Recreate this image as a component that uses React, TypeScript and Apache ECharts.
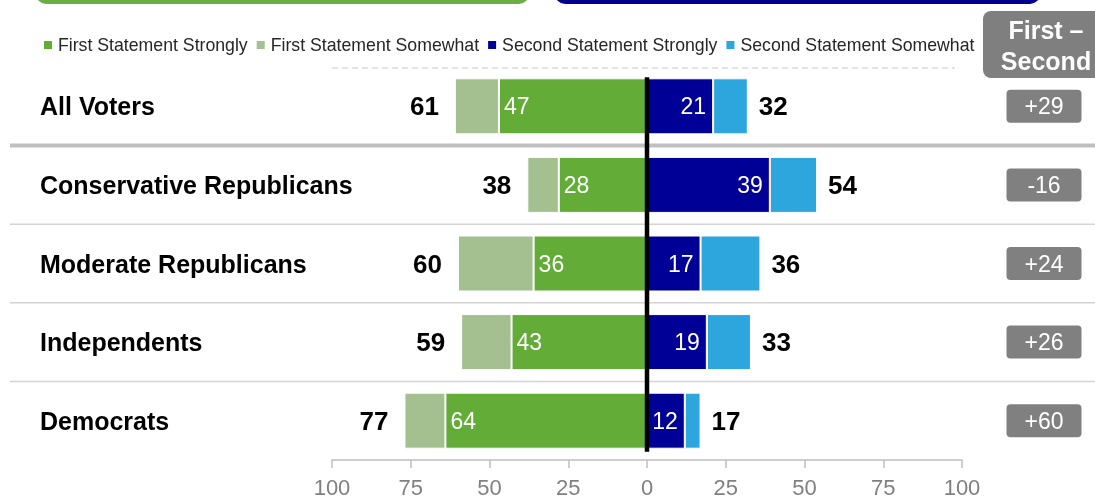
import React, { useEffect, useRef } from "react";
import * as echarts from "echarts";

const CATEGORIES = ["All Voters", "Conservative Republicans", "Moderate Republicans", "Independents", "Democrats"];
const FIRST_STRONGLY = [47, 28, 36, 43, 64];
const FIRST_SOMEWHAT = [14, 10, 24, 16, 13];
const SECOND_STRONGLY = [21, 39, 17, 19, 12];
const SECOND_SOMEWHAT = [11, 15, 19, 14, 5];
const FIRST_TOTAL = [61, 38, 60, 59, 77];
const SECOND_TOTAL = [32, 54, 36, 33, 17];
const DIFFS = ["+29", "-16", "+24", "+26", "+60"];
const X_TICKS = [-100, -75, -50, -25, 0, 25, 50, 75, 100];

const FONT = "'Liberation Sans', Arial, sans-serif";

export default function App() {
  const ref = useRef<HTMLDivElement>(null);
  useEffect(() => {
    if (!ref.current) return;
    const chart = echarts.init(ref.current, null, { renderer: "svg" });
    const option: any = {
      animation: false,
      textStyle: { fontFamily: FONT },
      legend: {
        left: 42,
        top: 36,
        padding: 0,
        icon: "rect",
        itemWidth: 10,
        itemHeight: 10,
        itemGap: 7,
        textStyle: { fontSize: 17.7, color: "#262626", fontFamily: FONT },
        data: ["First Statement Strongly", "First Statement Somewhat", "Second Statement Strongly", "Second Statement Somewhat"],
      },
      grid: { left: 332, right: 133, top: 67, bottom: 40 },
      xAxis: {
        type: "value",
        min: X_TICKS[0],
        max: X_TICKS[X_TICKS.length - 1],
        interval: 25,
        axisLine: { show: true, lineStyle: { color: "#bfbfbf", width: 1.5 } },
        axisTick: { show: true, length: 8, lineStyle: { color: "#bfbfbf", width: 1.5 } },
        axisLabel: { color: "#808080", fontSize: 22, margin: 16, formatter: (v: number) => String(Math.abs(v)) },
        splitLine: { show: false },
      },
      yAxis: [
        {
          type: "category",
          inverse: true,
          data: CATEGORIES,
          axisLine: { show: false },
          axisTick: { show: false },
          axisLabel: { align: "left", margin: 292, fontSize: 25, fontWeight: "bold", color: "#000", padding: [11, 0, 0, 0] },
        },
        {
          type: "category",
          inverse: true,
          position: "right",
          data: DIFFS,
          axisLine: { show: false },
          axisTick: { show: false },
          axisLabel: {
            margin: 82,
            align: "center",
            verticalAlign: "middle",
            backgroundColor: "#808080",
            color: "#fff",
            fontSize: 23,
            width: 75,
            height: 33,
            lineHeight: 33,
            borderRadius: 4,
          },
        },
      ],
      series: [
        {
          name: "First Statement Strongly",
          type: "bar",
          stack: "total",
          barWidth: 56,
          data: FIRST_STRONGLY.map((v) => -v),
          itemStyle: { color: "#63ac37", borderColor: "#fff", borderWidth: 1 },
          label: { show: true, position: "insideLeft", distance: 5, color: "#fff", fontSize: 23, formatter: (p: any) => String(FIRST_STRONGLY[p.dataIndex]) },
        },
        {
          name: "First Statement Somewhat",
          type: "bar",
          stack: "total",
          data: FIRST_SOMEWHAT.map((v) => -v),
          itemStyle: { color: "#a4bf90", borderColor: "#fff", borderWidth: 1 },
          label: { show: true, position: "left", distance: 16, color: "#000", fontSize: 26, fontWeight: "bold", formatter: (p: any) => String(FIRST_TOTAL[p.dataIndex]) },
        },
        {
          name: "Second Statement Strongly",
          type: "bar",
          stack: "total",
          data: SECOND_STRONGLY,
          itemStyle: { color: "#000096", borderColor: "#fff", borderWidth: 1 },
          label: { show: true, position: "insideRight", distance: 7, color: "#fff", fontSize: 23, formatter: (p: any) => String(SECOND_STRONGLY[p.dataIndex]) },
        },
        {
          name: "Second Statement Somewhat",
          type: "bar",
          stack: "total",
          data: SECOND_SOMEWHAT,
          itemStyle: { color: "#2ca6dc", borderColor: "#fff", borderWidth: 1 },
          label: { show: true, position: "right", distance: 11, color: "#000", fontSize: 26, fontWeight: "bold", formatter: (p: any) => String(SECOND_TOTAL[p.dataIndex]) },
        },
      ],
    };
    chart.setOption(option);

    const centers = CATEGORIES.map((c) => chart.convertToPixel({ yAxisIndex: 0 }, c) as number);
    const x0 = chart.convertToPixel({ xAxisIndex: 0 }, 0) as number;
    const graphics: any[] = [
      { type: "rect", shape: { x: 36, y: -30, width: 493, height: 34, r: 10 }, style: { fill: "#6aae45" } },
      { type: "rect", shape: { x: 555, y: -30, width: 485, height: 34, r: 10 }, style: { fill: "#00008f" } },
      { type: "rect", shape: { x: 983, y: 11, width: 130, height: 67, r: 8 }, style: { fill: "#7f7f7f" } },
      {
        type: "text",
        x: 1046,
        y: 45,
        style: { text: "First –\nSecond", fill: "#fff", font: `bold 25px ${FONT}`, align: "center", verticalAlign: "middle", lineHeight: 31 },
      },
      { type: "line", shape: { x1: 332, y1: 68, x2: 955, y2: 68 }, style: { stroke: "#c8c8c8", lineWidth: 1, lineDash: [6, 4] } },
    ];
    for (let i = 0; i < centers.length - 1; i++) {
      const y = (centers[i] + centers[i + 1]) / 2;
      graphics.push({
        type: "line",
        z: -1,
        shape: { x1: 10, y1: y, x2: 1095, y2: y },
        style: { stroke: i === 0 ? "#c0c0c0" : "#d4d4d4", lineWidth: i === 0 ? 4 : 1.5 },
      });
    }
    graphics.push({
      type: "line",
      z: 100,
      shape: { x1: x0, y1: centers[0] - 29, x2: x0, y2: centers[centers.length - 1] + 31 },
      style: { stroke: "#000", lineWidth: 4.5 },
    });
    chart.setOption({ graphic: graphics });

    return () => chart.dispose();
  }, []);
  return <div ref={ref} style={{ position: "fixed", left: 0, top: 0, width: 1095, height: 500 }} />;
}
